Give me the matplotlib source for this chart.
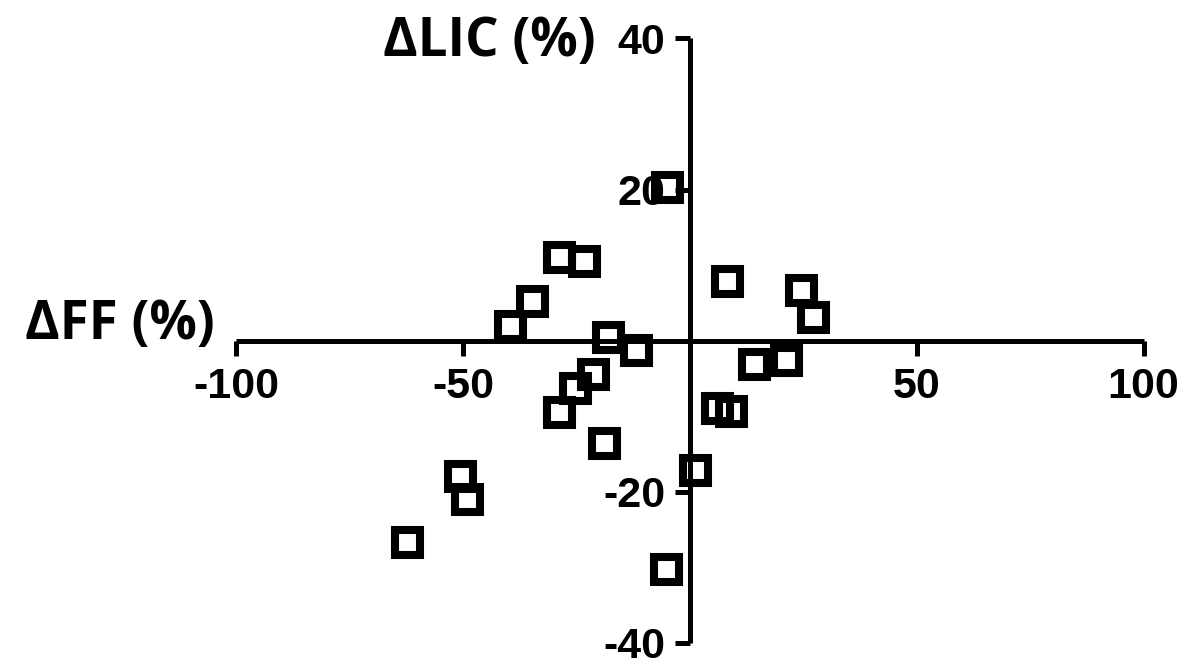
import matplotlib
matplotlib.use("Agg")
import matplotlib.pyplot as plt

# change in FF (%) vs change in LIC (%)
d_ff = [-5.0, -28.9, -23.4, -34.8, -39.8, -18.0, -12.0, -21.3, -25.4,
        -28.9, -19.0, 8.2, 24.4, 27.2, 14.1, 21.1, 6.0, 9.0, 1.2,
        -50.7, -49.2, -62.5, -5.3]
d_lic = [20.3, 11.1, 10.6, 5.3, 1.95, 0.45, -1.2, -4.4, -6.2,
         -9.4, -13.5, 7.95, 6.7, 3.2, -3.1, -2.55, -8.9, -9.3, -17.1,
         -17.9, -21.0, -26.7, -30.2]

x_ticks = [-100, -50, 50, 100]
y_ticks = [40, 20, -20, -40]

fig = plt.figure(figsize=(12.04, 6.6), dpi=100)
ax = fig.add_axes([0.1964, 0.0258, 0.7534, 0.9159])

lw = 3.6
ax.plot(d_ff, d_lic, linestyle="none", marker="s", markersize=18,
        markerfacecolor="none", markeredgecolor="black", markeredgewidth=5.8,
        clip_on=False, zorder=5)

ax.set_xlim(-100, 100)
ax.set_ylim(-40, 40)

for s in ["top", "right"]:
    ax.spines[s].set_visible(False)
ax.spines["left"].set_position(("data", 0))
ax.spines["bottom"].set_position(("data", 0))
for s in ["left", "bottom"]:
    ax.spines[s].set_linewidth(lw)
    ax.spines[s].set_capstyle("butt")

ax.set_xticks(x_ticks)
ax.set_yticks(y_ticks)
ax.set_xticklabels([str(v) for v in x_ticks])
ax.set_yticklabels([str(v) for v in y_ticks])
ax.tick_params(axis="both", direction="out", length=11, width=lw)
ax.tick_params(axis="x", pad=8)
ax.tick_params(axis="y", pad=7)
for lab in ax.get_xticklabels() + ax.get_yticklabels():
    lab.set_fontfamily("Liberation Sans")
    lab.set_fontweight("bold")
    lab.set_fontsize(31)

fig.text(215 / 1204, 1 - 325 / 660, "\u0394FF (%)", ha="right", va="center",
         fontsize=38, fontweight="bold", family=["Open Sans", "DejaVu Sans"])
fig.text(489 / 1204, 1 - 42 / 660, "\u0394LIC (%)", ha="center", va="center",
         fontsize=38, fontweight="bold", family=["Open Sans", "DejaVu Sans"])

fig.savefig("out.png", dpi=100)
